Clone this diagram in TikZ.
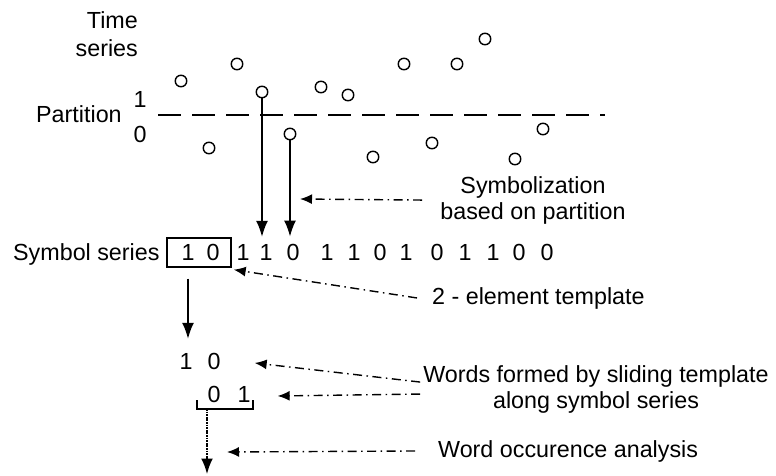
\documentclass[tikz,border=0pt]{standalone}
\usepackage{fontspec}
\setmainfont{Liberation Sans}
\usetikzlibrary{arrows.meta}
\begin{document}
\begin{tikzpicture}[x=1pt,y=-1pt,
  every node/.style={inner sep=0pt, font=\fontsize{23.3}{26}\selectfont},
  pt/.style={draw, circle, minimum size=11.5pt, line width=1.4pt},
  sym/.style={anchor=base},
  solidarrow/.style={line width=1.6pt, -{Latex[length=16pt,width=12pt]}},
  pointer/.style={line width=1.4pt, dash pattern=on 9pt off 4.5pt on 1.5pt off 4.5pt, -{Latex[length=12pt,width=10pt]}},
  dotarrow/.style={line width=2.6pt, dash pattern=on 1.8pt off 0.8pt, -{Latex[length=16pt,width=12pt]}},
  partline/.style={line width=1.6pt, dash pattern=on 22.5pt off 11.5pt},
  boxline/.style={line width=1.4pt}
  ]
\useasboundingbox (0,0) rectangle (776,475);
\fill[white] (0,0) rectangle (776,475);

% time series samples
\foreach \i/\x/\y in {1/181/81,2/209/148,3/237/64,4/262/92,5/290/134,6/321/87,7/348/95,
  8/373/157,9/404/64,10/432/143,11/457/64,12/485/39,13/515/159,14/543/129}
  \node[pt] (p\i) at (\x,\y) {};

\node[anchor=north east, align=right] (ts) at (138,11.5) {Time\\[2pt]series};
\node[anchor=base west] (part) at (36,122) {Partition};
\node[anchor=base] (one) at (140,107) {1};
\node[anchor=base] (zero) at (140,142) {0};
\draw[partline] (158,115) -- (605,115);

% symbol series
\node[anchor=base west] (ss) at (13,260) {Symbol series};
\foreach \i/\x/\d in {1/188/1,2/213/0,3/243/1,4/266/1,5/293/0,6/327/1,7/354/1,
  8/380/0,9/406/1,10/437/0,11/465/1,12/493/1,13/519/0,14/547/0}
  \node[sym] (s\i) at (\x,260) {\d};
\node[draw, boxline, minimum width=64pt, minimum height=29pt] (box) at (199,252.5) {};

\draw[solidarrow] (p4) -- ([yshift=7pt]p4 |- s4.north);
\draw[solidarrow] (p5) -- ([yshift=7pt]p5 |- s5.north);

% words
\node[sym] (w1a) at (186,369) {1};
\node[sym] (w1b) at (214,369) {0};
\node[sym] (w2a) at (214,402) {0};
\node[sym] (w2b) at (244,402) {1};
\draw[boxline] (197,400) -- (197,409) -- (253,409) -- (253,400);
\coordinate (bk) at (207,409);
\coordinate (bkend) at (207,474.5);

\draw[solidarrow] ([yshift=-11pt]s1 |- box.south) -- ([yshift=14pt]s1 |- w1a.north);
\draw[dotarrow] (bk) -- (bkend);

% labels
\node[anchor=north, align=center] (lsym) at (533,176) {Symbolization\\based on partition};
\node[anchor=base west] (ltemp) at (432,304) {2 - element template};
\node[anchor=north, align=center] (lwords) at (596,365) {Words formed by sliding template\\along symbol series};
\node[anchor=base west] (locc) at (438,457) {Word occurence analysis};

\coordinate (asym) at (300,199);
\coordinate (aocc) at (227,452);
\draw[pointer] ([xshift=-18pt]lsym.west) -- (asym);
\draw[pointer] ([xshift=-15pt]ltemp.west) -- ([shift={(2pt,-2pt)}]box.south east);
\draw[pointer] ([shift={(-3pt,7pt)}]lwords.west) -- ([shift={(34pt,-2pt)}]w1b.east);
\draw[pointer] ([shift={(-3pt,-5pt)}]lwords.west) -- ([shift={(27pt,-2pt)}]w2b.east);
\draw[pointer] ([xshift=-23pt]locc.west) -- (aocc);
\end{tikzpicture}
\end{document}
